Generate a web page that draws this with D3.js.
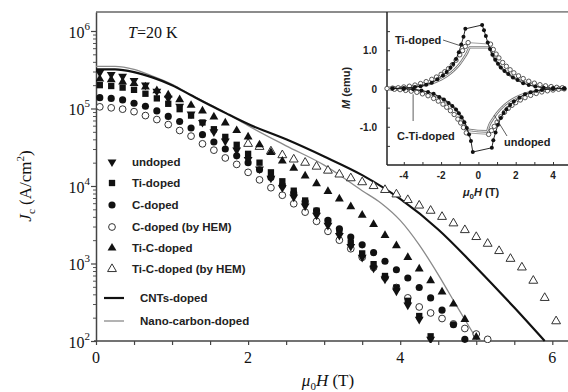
<!DOCTYPE html>
<html>
<head>
<meta charset="utf-8">
<script src="https://cdn.jsdelivr.net/npm/d3@7"></script>
<style>
  body { margin: 0; background: #fff; }
  svg { display: block; }
  .serif { font-family: "Liberation Serif", "Times New Roman", serif; fill: #111; }
  .sans { font-family: "Liberation Sans", Arial, sans-serif; font-weight: bold; fill: #222; }
</style>
</head>
<body>
<div id="chart"></div>
<script>
// Jc(H) at 20 K, main panel -- field grid shared by the marker series
var fields = [0.05, 0.2, 0.35, 0.5, 0.65, 0.8, 0.95, 1.1, 1.25, 1.4, 1.55, 1.7, 1.85, 2.0, 2.15, 2.3, 2.45, 2.6, 2.75, 2.9,
  3.05, 3.2, 3.35, 3.5, 3.65, 3.8, 3.95, 4.1, 4.25, 4.4, 4.55, 4.7, 4.85, 5.0, 5.15, 5.3, 5.45, 5.6, 5.75, 5.9, 6.05]

var undoped = [2.9e5, 2.75e5, 2.6e5, 2.3e5, 2.0e5, 1.66e5, 1.35e5, 1.07e5, 8.5e4, 6.6e4, 5.0e4, 3.8e4, 2.9e4, 2.2e4, 1.66e4,
  1.26e4, 9.5e3, 7.2e3, 5.5e3, 4.2e3, 3.1e3, 2.3e3, 1.66e3, 1.2e3, 870, 630, 440, 290, 190, 105]
var tiDoped = [2.0e5, 1.95e5, 1.86e5, 1.74e5, 1.55e5, 1.35e5, 1.15e5, 9.8e4, 8.1e4, 6.6e4, 5.4e4, 4.3e4, 3.4e4, 2.6e4, 2.0e4,
  1.5e4, 1.15e4, 8.7e3, 6.5e3, 4.8e3, 3.5e3, 2.6e3, 1.86e3, 1.35e3, 980, 690, 490, 330, 210, 115]
var cDoped = [1.38e5, 1.35e5, 1.29e5, 1.17e5, 1.07e5, 9.3e4, 7.9e4, 6.8e4, 5.6e4, 4.6e4, 3.7e4, 3.0e4, 2.45e4, 2.0e4, 1.62e4,
  1.29e4, 1.02e4, 8.1e3, 6.3e3, 4.8e3, 3.6e3, 2.8e3, 2.2e3, 1.74e3, 1.38e3, 1.07e3, 830, 650, 490, 360, 250, 162, 105]
var cDopedHem = [1.05e5, 1.02e5, 9.8e4, 9.1e4, 8.1e4, 7.2e4, 6.2e4, 5.2e4, 4.4e4, 3.5e4, 2.9e4, 2.3e4, 1.9e4, 1.5e4, 1.2e4,
  9.5e3, 7.6e3, 5.9e3, 4.6e3, 3.5e3, 2.6e3, 2.0e3, 1.55e3, 1.2e3, 890, 660, 490, 360, 275, 230, 195, 166, 145, 123, 105]
var tiCDoped = [2.4e5, 2.35e5, 2.2e5, 2.1e5, 1.9e5, 1.7e5, 1.5e5, 1.3e5, 1.1e5, 9.3e4, 7.8e4, 6.5e4, 5.2e4, 4.3e4, 3.4e4,
  2.7e4, 2.1e4, 1.7e4, 1.35e4, 1.07e4, 8.5e3, 6.8e3, 5.4e3, 4.2e3, 3.2e3, 2.3e3, 1.7e3, 1.2e3, 850, 600, 430, 300, 190, 112]
// open triangles only show up from 2 T on
var tiCDopedHem = [null, null, null, null, null, null, null, null, null, null, null, null, null,
  3.5e4, 3.2e4, 2.8e4, 2.5e4, 2.2e4, 2.0e4, 1.78e4, 1.58e4, 1.41e4, 1.26e4, 1.12e4, 1.0e4, 8.9e3, 7.8e3, 6.6e3, 5.6e3,
  4.8e3, 4.0e3, 3.3e3, 2.7e3, 2.2e3, 1.8e3, 1.45e3, 1.15e3, 890, 600, 360, 180]

var cntH = [0, 0.25, 0.5, 0.75, 1.0, 1.25, 1.5, 1.75, 2.0, 2.5, 3.0, 3.5, 4.0, 4.5, 5.0, 5.5, 5.9]
var cntJc = [3.2e5, 3.2e5, 2.95e5, 2.5e5, 2.0e5, 1.48e5, 1.1e5, 8.3e4, 6.3e4, 4.0e4, 2.4e4, 1.38e4, 6.8e3, 2.75e3, 890, 270, 100]
var nanoH = [0, 0.25, 0.5, 0.75, 1.0, 1.25, 1.5, 1.75, 2.0, 2.5, 3.0, 3.5, 3.75, 4.0, 4.25, 4.5, 4.75, 5.02]
var nanoJc = [3.5e5, 3.5e5, 3.2e5, 2.6e5, 2.05e5, 1.5e5, 1.12e5, 8.3e4, 6.0e4, 3.3e4, 1.86e4, 8.7e3, 6.0e3, 3.6e3, 1.74e3, 720, 275, 100]

var xTicks = [0, 0.5, 1, 1.5, 2, 2.5, 3, 3.5, 4, 4.5, 5, 5.5, 6]
var xLabels = [0, 2, 4, 6]
var yDecades = [2, 3, 4, 5, 6]

// inset M(H) loops
var tiUpH = [-4.6, -4.0, -3.4, -3.1, -2.8, -2.5, -2.2, -1.9, -1.7, -1.5, -1.35, -1.2, -1.05, -0.92, -0.8, -0.7, 0.2, 0.3, 0.4,
  0.5, 0.62, 0.75, 0.9, 1.05, 1.2, 1.4, 1.6, 1.85, 2.1, 2.4, 2.7, 3.05, 3.5, 4.0, 4.6]
var tiUpM = [0.0, 0.01, 0.04, 0.06, 0.1, 0.15, 0.24, 0.34, 0.43, 0.54, 0.64, 0.77, 0.95, 1.15, 1.35, 1.56, 1.66, 1.52, 1.37,
  1.2, 1.03, 0.88, 0.75, 0.65, 0.55, 0.46, 0.38, 0.29, 0.22, 0.14, 0.09, 0.05, 0.02, 0.01, 0.0]
var tiLowH = [-4.6, -4.0, -3.5, -3.05, -2.7, -2.4, -2.1, -1.85, -1.6, -1.4, -1.2, -1.05, -0.9, -0.75, -0.62, -0.5, -0.4, -0.3,
  0.72, 0.8, 0.92, 1.05, 1.2, 1.35, 1.5, 1.7, 1.9, 2.2, 2.5, 2.8, 3.1, 3.4, 4.0, 4.6]
var tiLowM = [0.0, -0.01, -0.02, -0.05, -0.09, -0.14, -0.22, -0.29, -0.38, -0.46, -0.55, -0.65, -0.75, -0.88, -1.03, -1.2,
  -1.37, -1.66, -1.55, -1.35, -1.15, -0.95, -0.77, -0.64, -0.54, -0.43, -0.34, -0.24, -0.15, -0.1, -0.06, -0.04, -0.01, 0.0]

var unUpH = [-4.9, -4.6, -4.3, -4.0, -3.7, -3.4, -3.1, -2.8, -2.5, -2.25, -2.0, -1.8, -1.6, -1.4, -1.2, -1.0, -0.85, -0.7,
  -0.55, 0.65, 0.8, 0.95, 1.1, 1.3, 1.5, 1.7, 1.9, 2.15, 2.4, 2.7, 3.0, 3.3, 3.6, 3.9, 4.2, 4.5]
var unUpM = [0.0, 0.01, 0.02, 0.04, 0.06, 0.09, 0.13, 0.18, 0.24, 0.3, 0.37, 0.44, 0.52, 0.62, 0.74, 0.88, 0.99, 1.1,
  1.2, 1.16, 1.02, 0.9, 0.8, 0.68, 0.58, 0.49, 0.41, 0.33, 0.26, 0.19, 0.14, 0.1, 0.07, 0.05, 0.03, 0.02]
var unLowH = [-4.5, -4.2, -3.9, -3.6, -3.3, -3.0, -2.7, -2.4, -2.15, -1.9, -1.7, -1.5, -1.3, -1.1, -0.95, -0.8, -0.65, 0.55,
  0.7, 0.85, 1.0, 1.2, 1.4, 1.6, 1.8, 2.0, 2.25, 2.5, 2.8, 3.1, 3.4, 3.7, 4.0, 4.3, 4.6]
var unLowM = [-0.02, -0.03, -0.05, -0.07, -0.1, -0.14, -0.19, -0.26, -0.33, -0.41, -0.49, -0.58, -0.68, -0.8, -0.9, -1.02,
  -1.16, -1.2, -1.1, -0.99, -0.88, -0.74, -0.62, -0.52, -0.44, -0.37, -0.3, -0.24, -0.18, -0.13, -0.09, -0.06, -0.04, -0.02, -0.01]

var ctUpH = [-4.8, -4.0, -3.5, -3.0, -2.5, -2.0, -1.6, -1.3, -1.0, -0.8, -0.6, -0.45, 0.55, 0.7, 0.85, 1.0, 1.3, 1.6, 2.0, 2.5,
  3.0, 3.5, 4.0, 4.7]
var ctUpM = [0.02, 0.03, 0.05, 0.08, 0.14, 0.24, 0.36, 0.48, 0.64, 0.78, 0.94, 1.08, 1.08, 0.96, 0.8, 0.68, 0.5, 0.38, 0.25,
  0.15, 0.09, 0.05, 0.03, 0.02]
var ctLowH = [-4.8, -4.0, -3.5, -3.0, -2.5, -2.0, -1.6, -1.3, -1.0, -0.85, -0.7, -0.55, 0.45, 0.6, 0.8, 1.0, 1.3, 1.6, 2.0,
  2.5, 3.0, 3.5, 4.0, 4.7]
var ctLowM = [-0.02, -0.03, -0.05, -0.09, -0.15, -0.25, -0.38, -0.5, -0.68, -0.8, -0.96, -1.08, -1.12, -0.94, -0.78, -0.64,
  -0.48, -0.36, -0.24, -0.14, -0.08, -0.05, -0.03, -0.02]

var insetXTicks = [-4, -3, -2, -1, 0, 1, 2, 3, 4]
var insetXLabels = [-4, -2, 0, 2, 4]
var insetYTicks = [-1.5, -1, -0.5, 0, 0.5, 1, 1.5]
var insetYLabels = ["1.0", "0", "-1.0"]
var insetYLabelVals = [1, 0, -1]

var width = 568, height = 392

var svg = d3.select("#chart").append("svg")
  .attr("width", width)
  .attr("height", height)

var x = d3.scaleLinear().domain([0, 6.18]).range([96, 566])
var y = d3.scaleLog().domain([100, Math.pow(10, 6.245)]).range([341, 12])

svg.append("clipPath").attr("id", "plotclip")
  .append("rect").attr("x", 96).attr("y", 10).attr("width", 472).attr("height", 333)

// frame top line
svg.append("line")
  .attr("x1", 96).attr("x2", 568).attr("y1", 12).attr("y2", 12)
  .attr("stroke", "#666").attr("stroke-width", 1.5)

// y axis: decades plus log minor ticks
var minorVals = []
yDecades.slice(0, -1).forEach(function(p) {
  for (var k = 2; k <= 9; k++) minorVals.push(k * Math.pow(10, p))
})
minorVals.push(2e6, 3e6, 4e6, 5e6, 6e6, 7e6, 8e6, 9e6)
minorVals = minorVals.filter(function(v) { return v <= y.domain()[1] })

svg.append("g")
  .attr("transform", "translate(96,0)")
  .call(d3.axisLeft(y).tickValues(minorVals).tickSize(3).tickFormat(""))
  .call(function(g) { g.select(".domain").remove() })
  .selectAll("line").attr("stroke", "#555")

svg.append("g")
  .attr("transform", "translate(96,0)")
  .call(d3.axisLeft(y).tickValues(yDecades.map(function(p) { return Math.pow(10, p) })).tickSize(5).tickFormat("").tickSizeOuter(0))
  .call(function(g) {
    g.select(".domain").attr("stroke", "#444").attr("stroke-width", 1.5)
    g.selectAll("line").attr("stroke", "#444").attr("stroke-width", 1.2)
  })

yDecades.forEach(function(p) {
  var t = svg.append("text").attr("class", "serif")
    .attr("x", 90).attr("y", y(Math.pow(10, p)) + 7)
    .attr("text-anchor", "end").style("font-size", "16px")
  t.append("tspan").text("10")
  t.append("tspan").attr("dy", -8).style("font-size", "11px").text(p)
})

// x axis
svg.append("g")
  .attr("transform", "translate(0,341)")
  .call(d3.axisBottom(x).tickValues(xTicks).tickSize(4).tickFormat("").tickSizeOuter(0))
  .call(function(g) {
    g.select(".domain").attr("stroke", "#444").attr("stroke-width", 1.5).attr("d", "M94,0H568")
    g.selectAll("line").attr("stroke", "#444").attr("stroke-width", 1.2)
  })

svg.append("g").selectAll("text")
  .data(xLabels).enter()
  .append("text").attr("class", "serif")
    .attr("x", function(d) { return x(d) })
    .attr("y", 363)
    .attr("text-anchor", "middle")
    .style("font-size", "16px")
    .text(function(d) { return d })

// axis titles
var xt = svg.append("text").attr("class", "serif")
  .attr("x", 328).attr("y", 386).attr("text-anchor", "middle").style("font-size", "17px")
xt.append("tspan").style("font-style", "italic").text("μ")
xt.append("tspan").attr("dy", 4).style("font-size", "11px").text("0")
xt.append("tspan").attr("dy", -4).style("font-style", "italic").text("H")
xt.append("tspan").text(" (T)")

var yt = svg.append("text").attr("class", "serif")
  .attr("transform", "translate(31,186) rotate(-90)")
  .attr("text-anchor", "middle").style("font-size", "17px")
yt.append("tspan").style("font-style", "italic").text("J")
yt.append("tspan").attr("dy", 4).style("font-size", "11px").text("c")
yt.append("tspan").attr("dy", -4).text(" (A/cm")
yt.append("tspan").attr("dy", -7).style("font-size", "11px").text("2")
yt.append("tspan").attr("dy", 7).text(")")

var tt = svg.append("text").attr("class", "serif")
  .attr("x", 128).attr("y", 38).style("font-size", "16px")
tt.append("tspan").style("font-style", "italic").text("T")
tt.append("tspan").text("=20 K")

// curves
var plot = svg.append("g").attr("clip-path", "url(#plotclip)")

var logLine = d3.line()
  .x(function(d) { return x(d[0]) })
  .y(function(d) { return y(d[1]) })
  .curve(d3.curveMonotoneX)

plot.append("path")
  .datum(nanoH.map(function(h, i) { return [h, nanoJc[i]] }))
  .attr("d", logLine).attr("fill", "none").attr("stroke", "#8a8a8a").attr("stroke-width", 1.3)

plot.append("path")
  .datum(cntH.map(function(h, i) { return [h, cntJc[i]] }))
  .attr("d", logLine).attr("fill", "none").attr("stroke", "#111").attr("stroke-width", 2.2)

// marker series, drawn from back to front
var series = [
  {name: "Ti-C-doped (by HEM)", values: tiCDopedHem, type: d3.symbolTriangle, size: 34, filled: false, rot: 0},
  {name: "C-doped (by HEM)", values: cDopedHem, type: d3.symbolCircle, size: 36, filled: false, rot: 0},
  {name: "C-doped", values: cDoped, type: d3.symbolCircle, size: 40, filled: true, rot: 0},
  {name: "Ti-doped", values: tiDoped, type: d3.symbolSquare, size: 40, filled: true, rot: 0},
  {name: "undoped", values: undoped, type: d3.symbolTriangle, size: 34, filled: true, rot: 180},
  {name: "Ti-C-doped", values: tiCDoped, type: d3.symbolTriangle, size: 34, filled: true, rot: 0}
]

series.forEach(function(s) {
  var pts = []
  s.values.forEach(function(v, i) { if (v != null) pts.push([fields[i], v]) })
  plot.append("g").selectAll("path")
    .data(pts).enter()
    .append("path")
      .attr("d", d3.symbol().type(s.type).size(s.size))
      .attr("transform", function(d) { return "translate(" + x(d[0]) + "," + y(d[1]) + ") rotate(" + s.rot + ")" })
      .attr("fill", s.filled ? "#111" : "#fff")
      .attr("stroke", s.filled ? "none" : "#333")
      .attr("stroke-width", 1)
})

// legend
var legendRows = [
  {name: "undoped", y: 162}, {name: "Ti-doped", y: 183}, {name: "C-doped", y: 205},
  {name: "C-doped (by HEM)", y: 227}, {name: "Ti-C-doped", y: 248}, {name: "Ti-C-doped (by HEM)", y: 269}
]
legendRows.forEach(function(r) {
  var s = series.filter(function(d) { return d.name == r.name })[0]
  svg.append("path")
    .attr("d", d3.symbol().type(s.type).size(s.size))
    .attr("transform", "translate(112," + r.y + ") rotate(" + s.rot + ")")
    .attr("fill", s.filled ? "#111" : "#fff")
    .attr("stroke", s.filled ? "none" : "#333")
  svg.append("text").attr("class", "sans")
    .attr("x", 132).attr("y", r.y + 4).style("font-size", "11.5px").text(r.name)
})
svg.append("line").attr("x1", 104).attr("x2", 124).attr("y1", 298).attr("y2", 298)
  .attr("stroke", "#111").attr("stroke-width", 2.2)
svg.append("text").attr("class", "sans").attr("x", 140).attr("y", 302).style("font-size", "11.5px").text("CNTs-doped")
svg.append("line").attr("x1", 104).attr("x2", 124).attr("y1", 321).attr("y2", 321)
  .attr("stroke", "#8a8a8a").attr("stroke-width", 1.3)
svg.append("text").attr("class", "sans").attr("x", 140).attr("y", 325).style("font-size", "11.5px").text("Nano-carbon-doped")

// inset
var ix = d3.scaleLinear().domain([-4.9, 4.75]).range([387, 567])
var iy = d3.scaleLinear().domain([-2, 2]).range([165, 12])

svg.append("rect").attr("x", 387).attr("y", 12.75).attr("width", 181).attr("height", 152).attr("fill", "#fff")

svg.append("g")
  .attr("transform", "translate(0,165)")
  .call(d3.axisBottom(ix).tickValues(insetXTicks).tickSize(-3).tickFormat("").tickSizeOuter(0))
  .call(function(g) {
    g.select(".domain").attr("stroke", "#222").attr("stroke-width", 1.5).attr("d", "M387,0H568")
    g.selectAll("line").attr("stroke", "#333")
  })
svg.append("g")
  .attr("transform", "translate(387,0)")
  .call(d3.axisLeft(iy).tickValues(insetYTicks).tickSize(-3).tickFormat("").tickSizeOuter(0))
  .call(function(g) {
    g.select(".domain").attr("stroke", "#222").attr("stroke-width", 1.5).attr("d", "M0,12V165")
    g.selectAll("line").attr("stroke", "#333")
  })

svg.append("g").selectAll("text")
  .data(insetXLabels).enter()
  .append("text").attr("class", "sans")
    .attr("x", function(d) { return ix(d) })
    .attr("y", 179).attr("text-anchor", "middle").style("font-size", "10px")
    .text(function(d) { return d })
svg.append("g").selectAll("text")
  .data(insetYLabels).enter()
  .append("text").attr("class", "sans")
    .attr("x", 377)
    .attr("y", function(d, i) { return iy(insetYLabelVals[i]) + 4 })
    .attr("text-anchor", "end").style("font-size", "10px")
    .text(function(d) { return d })

var mt = svg.append("text").attr("class", "sans")
  .attr("transform", "translate(350,88) rotate(-90)")
  .attr("text-anchor", "middle").style("font-size", "11px")
mt.append("tspan").style("font-style", "italic").text("M")
mt.append("tspan").text(" (emu)")

var ht = svg.append("text").attr("class", "sans")
  .attr("x", 481).attr("y", 196).attr("text-anchor", "middle").style("font-size", "11px")
ht.append("tspan").style("font-style", "italic").text("μ")
ht.append("tspan").attr("dy", 3).style("font-size", "8px").text("0")
ht.append("tspan").attr("dy", -3).style("font-style", "italic").text("H")
ht.append("tspan").text(" (T)")

var inset = svg.append("g")
var loopLine = d3.line()
  .x(function(d) { return ix(d[0]) })
  .y(function(d) { return iy(d[1]) })

function pairs(hs, ms) { return hs.map(function(h, i) { return [h, ms[i]] }) }

// C-Ti-doped: hollow grey line
;[pairs(ctUpH, ctUpM), pairs(ctLowH, ctLowM)].forEach(function(b) {
  inset.append("path").datum(b).attr("d", loopLine.curve(d3.curveMonotoneX))
    .attr("fill", "none").attr("stroke", "#777").attr("stroke-width", 2.6)
  inset.append("path").datum(b).attr("d", loopLine.curve(d3.curveMonotoneX))
    .attr("fill", "none").attr("stroke", "#fff").attr("stroke-width", 0.9)
})

// undoped: open circles
;[pairs(unUpH, unUpM), pairs(unLowH, unLowM)].forEach(function(b) {
  inset.append("path").datum(b).attr("d", loopLine.curve(d3.curveLinear))
    .attr("fill", "none").attr("stroke", "#888").attr("stroke-width", 0.8)
  inset.append("g").selectAll("circle").data(b).enter()
    .append("circle")
      .attr("cx", function(d) { return ix(d[0]) })
      .attr("cy", function(d) { return iy(d[1]) })
      .attr("r", 2.2).attr("fill", "#fff").attr("stroke", "#444").attr("stroke-width", 0.9)
})

// Ti-doped: filled dots
;[pairs(tiUpH, tiUpM), pairs(tiLowH, tiLowM)].forEach(function(b) {
  inset.append("path").datum(b).attr("d", loopLine.curve(d3.curveLinear))
    .attr("fill", "none").attr("stroke", "#111").attr("stroke-width", 0.9)
  inset.append("g").selectAll("circle").data(b).enter()
    .append("circle")
      .attr("cx", function(d) { return ix(d[0]) })
      .attr("cy", function(d) { return iy(d[1]) })
      .attr("r", 2).attr("fill", "#111")
})

// inset annotations
svg.append("text").attr("class", "sans").attr("x", 395).attr("y", 44).style("font-size", "11px").text("Ti-doped")
svg.append("line").attr("x1", 443).attr("y1", 40).attr("x2", ix(-0.85)).attr("y2", iy(1.1))
  .attr("stroke", "#333").attr("stroke-width", 0.8)
svg.append("text").attr("class", "sans").attr("x", 397).attr("y", 140).style("font-size", "11px").text("C-Ti-doped")
svg.append("line").attr("x1", ix(-3.5)).attr("y1", 121).attr("x2", ix(-3.5)).attr("y2", iy(-0.15))
  .attr("stroke", "#333").attr("stroke-width", 0.8)
svg.append("text").attr("class", "sans").attr("x", 504).attr("y", 146).style("font-size", "11px").text("undoped")
svg.append("line").attr("x1", 507).attr("y1", 136).attr("x2", ix(0.85)).attr("y2", iy(-0.7))
  .attr("stroke", "#333").attr("stroke-width", 0.8)
</script>
</body>
</html>
